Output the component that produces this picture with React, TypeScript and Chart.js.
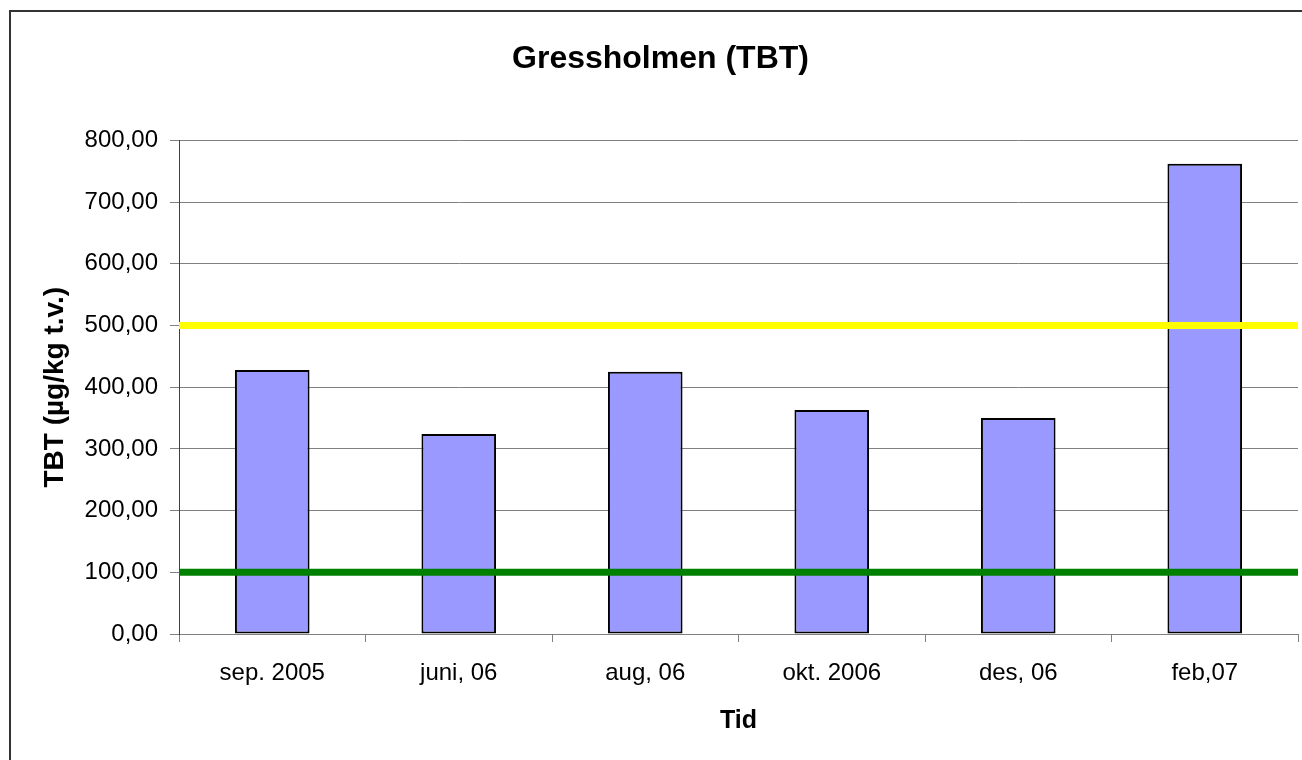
import React, { useEffect, useRef } from "react";
import { Chart, registerables } from "chart.js";

Chart.register(...registerables);

const categories = ["sep. 2005", "juni, 06", "aug, 06", "okt. 2006", "des, 06", "feb,07"];
const tbtValues = [428, 324, 425, 363, 350, 762];
const yellowLimit = [500, 500];
const greenLimit = [100, 100];
const limitX = [0, 1];
const yTickValues = [0, 100, 200, 300, 400, 500, 600, 700, 800];

const FONT = "Arial, 'Liberation Sans', sans-serif";

export default function App() {
  const ref = useRef<HTMLCanvasElement | null>(null);

  useEffect(() => {
    document.body.style.margin = "0";
    const canvas = ref.current;
    if (!canvas) return;
    const chart = new Chart(canvas, {
      type: "bar",
      data: {
        labels: categories,
        datasets: [
          {
            type: "bar",
            label: "TBT",
            data: tbtValues,
            backgroundColor: "#9999FF",
            borderColor: "#000000",
            borderWidth: 2,
            borderSkipped: false,
            barPercentage: 0.4,
            categoryPercentage: 1,
            grouped: false,
            order: 2,
          } as any,
          {
            type: "line",
            label: "500",
            data: limitX.map((x, i) => ({ x, y: yellowLimit[i] })),
            xAxisID: "x2",
            borderColor: "#FFFF00",
            borderWidth: 7,
            pointRadius: 0,
            fill: false,
            order: 1,
          } as any,
          {
            type: "line",
            label: "100",
            data: limitX.map((x, i) => ({ x, y: greenLimit[i] })),
            xAxisID: "x2",
            borderColor: "#008000",
            borderWidth: 7,
            pointRadius: 0,
            fill: false,
            order: 1,
          } as any,
        ],
      },
      options: {
        animation: false,
        responsive: true,
        maintainAspectRatio: false,
        layout: { padding: { left: 23, right: 4, top: 0, bottom: 0 } },
        plugins: {
          legend: { display: false },
          tooltip: { enabled: false },
          title: {
            display: true,
            text: "Gressholmen (TBT)",
            color: "#000",
            font: { family: FONT, size: 32, weight: "bold" },
            padding: { top: 40, bottom: 62 },
          },
        },
        scales: {
          x: {
            type: "category",
            offset: true,
            grid: {
              offset: true,
              drawOnChartArea: false,
              drawTicks: true,
              tickLength: 8,
              color: "#808080",
              lineWidth: 1,
            },
            border: { color: "#808080", width: 1 },
            ticks: {
              color: "#000",
              font: { family: FONT, size: 24 },
              padding: 17,
              maxRotation: 0,
              autoSkip: false,
            },
            title: {
              display: true,
              text: "Tid",
              color: "#000",
              font: { family: FONT, size: 25, weight: "bold" },
              padding: { top: 0, bottom: 24 },
            },
            afterFit: (scale: any) => {
              scale.height = 126;
            },
          },
          x2: {
            type: "linear",
            display: false,
            offset: false,
            grid: { offset: false },
            min: 0,
            max: 1,
          },
          y: {
            min: 0,
            max: 800,
            afterBuildTicks: (scale: any) => {
              scale.ticks = yTickValues.map((v) => ({ value: v }));
            },
            grid: {
              color: "#808080",
              lineWidth: 1,
              tickLength: 9,
              drawTicks: true,
            },
            border: { color: "#404040", width: 1 },
            ticks: {
              color: "#000",
              font: { family: FONT, size: 24 },
              padding: 12,
              callback: (v: any) => Number(v).toFixed(2).replace(".", ","),
            },
            title: {
              display: true,
              text: "TBT (µg/kg t.v.)",
              color: "#000",
              font: { family: FONT, size: 28, weight: "bold" },
              padding: { top: 15, bottom: 0 },
            },
            afterFit: (scale: any) => {
              scale.width = 156;
            },
          },
        },
      },
    });
    return () => chart.destroy();
  }, []);

  return (
    <div style={{ position: "absolute", left: 0, top: 0, width: 1302, height: 760, background: "#fff", overflow: "hidden" }}>
      <div
        style={{
          position: "absolute",
          left: 9,
          top: 10,
          width: 1400,
          height: 800,
          borderLeft: "2px solid #333",
          borderTop: "2px solid #333",
          boxSizing: "border-box",
        }}
      />
      <div style={{ position: "absolute", left: 0, top: 0, width: 1302, height: 760 }}>
        <canvas ref={ref} />
      </div>
    </div>
  );
}
